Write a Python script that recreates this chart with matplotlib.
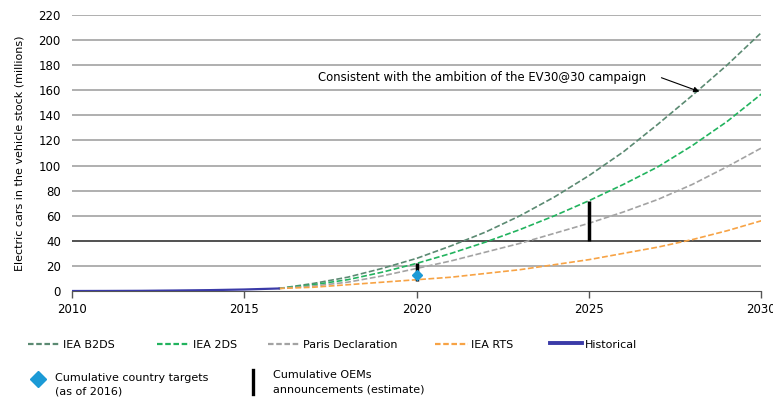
import matplotlib
matplotlib.use("Agg")
import matplotlib.pyplot as plt
from matplotlib.lines import Line2D

years_proj = [2016, 2017, 2018, 2019, 2020, 2021, 2022, 2023, 2024, 2025, 2026, 2027, 2028, 2029, 2030]
b2ds = [2, 6, 11, 18, 26, 36, 47, 60, 75, 92, 111, 133, 156, 180, 206]
two_ds = [2, 5, 9, 15, 22, 30, 39, 49, 60, 72, 85, 99, 116, 135, 157]
paris = [2, 4, 7, 12, 18, 24, 31, 38, 46, 54, 63, 73, 85, 99, 114]
rts = [2, 3, 5, 7, 9, 11, 14, 17, 21, 25, 30, 35, 41, 48, 56]
years_hist = [2010, 2011, 2012, 2013, 2014, 2015, 2016]
historical = [0.0, 0.05, 0.15, 0.4, 0.7, 1.2, 2.0]

target_year = [2020]
target_value = [12.5]
oem_years = [2020, 2025]
oem_low = [8, 40]
oem_high = [22, 72]

y_ticks = list(range(0, 221, 20))
x_ticks = [2010, 2015, 2020, 2025, 2030]

legend_labels = ["IEA B2DS", "IEA 2DS", "Paris Declaration", "IEA RTS", "Historical"]
marker_labels = ["Cumulative country targets\n(as of 2016)", "Cumulative OEMs\nannouncements (estimate)"]

c_b2ds = "#5b8a72"
c_2ds = "#22b35e"
c_paris = "#a3a3a3"
c_rts = "#f7a345"
c_hist = "#3b3ba8"
c_target = "#1b9ad6"

W, H = 773, 400
fig = plt.figure(figsize=(W / 100, H / 100), dpi=100)
ax = fig.add_axes([0.093, 0.2725, 0.892, 0.69])

for yt in y_ticks[1:]:
    col = "#222222" if yt == 40 else "#9a9a9a"
    ax.axhline(yt, color=col, lw=1.1, zorder=1)

dash = (0, (3.5, 1.5))
ax.plot(years_proj, b2ds, color=c_b2ds, lw=1.2, linestyle=dash, zorder=3)
ax.plot(years_proj, two_ds, color=c_2ds, lw=1.2, linestyle=dash, zorder=3)
ax.plot(years_proj, paris, color=c_paris, lw=1.2, linestyle=dash, zorder=3)
ax.plot(years_proj, rts, color=c_rts, lw=1.2, linestyle=dash, zorder=3)
ax.plot(years_hist, historical, color=c_hist, lw=1.6, zorder=4)

ax.vlines(oem_years, oem_low, oem_high, color="black", lw=2.5, zorder=5)
ax.plot(target_year, target_value, marker="D", color=c_target, markersize=5, linestyle="none", zorder=6)

ax.text(2017.15, 170, "Consistent with the ambition of the EV30@30 campaign",
        fontsize=8.4, va="center", ha="left", zorder=7)
ax.annotate("", xy=(2028.2, 159), xytext=(2027.1, 170),
            arrowprops=dict(arrowstyle="-|>", color="black", lw=0.8,
                            mutation_scale=8, shrinkA=0, shrinkB=0),
            zorder=7)

ax.set_xlim(2010, 2030)
ax.set_ylim(0, 220)
ax.set_xticks(x_ticks)
ax.set_yticks(y_ticks)
ax.tick_params(axis="y", length=0, labelsize=8.5, pad=8)
ax.tick_params(axis="x", length=5, width=1, color="#555555", labelsize=8.5, direction="out")
for s in ["top", "right", "left"]:
    ax.spines[s].set_visible(False)
ax.spines["bottom"].set_color("#555555")
ax.set_ylabel("Electric cars in the vehicle stock (millions)", fontsize=8, labelpad=10)


def fx(px):
    return px / W


def fy(py):
    return 1 - py / H


# Legend row 1 (positions in pixels)
row1_handles = [(28, 60), (157, 190), (268, 300), (435, 468), (550, 582)]
row1_colors = [c_b2ds, c_2ds, c_paris, c_rts, c_hist]
for (x0, x1), col, lab in zip(row1_handles, row1_colors, legend_labels):
    if lab == "Historical":
        ln = Line2D([fx(x0), fx(x1)], [fy(343), fy(343)], transform=fig.transFigure,
                    color=col, lw=2.8)
    else:
        ln = Line2D([fx(x0), fx(x1)], [fy(344), fy(344)], transform=fig.transFigure,
                    color=col, lw=1.6, linestyle=(0, (2.5, 1.2)))
    fig.add_artist(ln)
    fig.text(fx(x1 + 3), fy(345), lab, fontsize=8, va="center", ha="left")

# Legend row 2
fig.add_artist(Line2D([fx(38)], [fy(379)], transform=fig.transFigure, marker="D",
                      color=c_target, markersize=8, linestyle="none"))
fig.text(fx(55), fy(385), marker_labels[0], fontsize=8, va="center", ha="left", linespacing=1.5)
fig.add_artist(Line2D([fx(253), fx(253)], [fy(370), fy(394)], transform=fig.transFigure,
                      color="black", lw=2.4))
fig.text(fx(273), fy(382), marker_labels[1], fontsize=8, va="center", ha="left", linespacing=1.5)

fig.savefig("out.png", dpi=100)
